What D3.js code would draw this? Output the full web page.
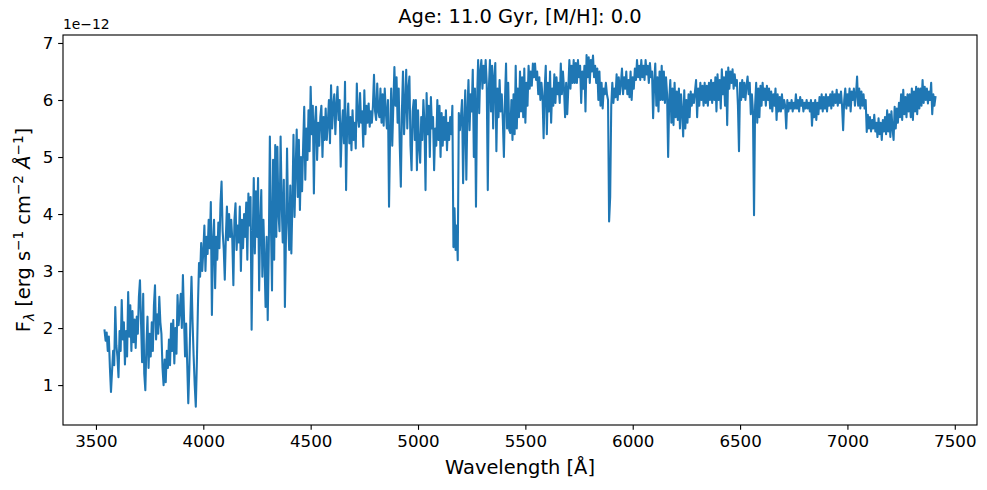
<!DOCTYPE html>
<html>
<head>
<meta charset="utf-8">
<script src="https://cdn.jsdelivr.net/npm/d3@7"></script>
<style>
  html, body { margin: 0; padding: 0; background: #ffffff; }
  svg { display: block; font-family: "DejaVu Sans", sans-serif; }
  text { white-space: pre; }
</style>
</head>
<body>
<svg id="chart" width="987" height="490"></svg>
<script>
// ---- Data ----
const chartTitle = "Age: 11.0 Gyr, [M/H]: 0.0";
const xLabel = "Wavelength [Å]";
const offsetLabel = "1e\u221212";
const xTicks = [3500, 4000, 4500, 5000, 5500, 6000, 6500, 7000, 7500];
const yTicks = [1, 2, 3, 4, 5, 6, 7];
const xDomain = [3346.5, 7603.5];
const yDomain = [0.30, 7.14];
// flux sampled every 5 Å starting at 3540 Å (units of 1e-12 erg s^-1 cm^-2 Å^-1)
const wavelengthStart = 3540;
const wavelengthStep = 5;
const flux = [
/*3540*/ 1.96,1.78,1.92,1.60,1.85,1.30,0.88,1.25,1.60,1.35,
/*3590*/ 2.37,1.70,1.50,1.14,1.95,1.60,2.49,1.80,2.10,1.36,
/*3640*/ 1.95,1.50,2.63,1.85,2.40,1.60,2.30,1.75,2.15,1.65,
/*3690*/ 2.20,1.90,2.55,2.84,2.10,1.40,2.60,1.20,0.91,1.70,
/*3740*/ 2.20,1.30,1.90,1.50,2.10,1.60,2.40,2.75,1.80,2.24,
/*3790*/ 1.90,2.55,2.10,1.90,1.30,1.00,1.45,1.05,1.60,1.30,
/*3840*/ 1.80,1.35,2.08,1.60,2.14,1.38,2.00,1.55,2.58,2.05,
/*3890*/ 2.30,2.60,2.00,2.93,2.20,1.50,2.08,1.38,0.68,1.30,
/*3940*/ 2.20,2.90,2.10,1.50,1.00,0.62,1.40,2.40,3.14,2.90,
/*3990*/ 3.49,3.00,3.35,3.80,3.00,3.60,3.30,3.90,3.40,4.21,
/*4040*/ 2.23,3.50,3.90,2.70,3.60,3.20,3.85,3.40,4.19,4.57,
/*4090*/ 3.70,3.40,2.85,3.60,4.13,3.54,4.00,3.60,3.90,3.55,
/*4140*/ 2.75,3.90,4.19,3.37,3.80,3.50,4.13,3.00,3.90,3.40,
/*4190*/ 4.00,3.60,4.20,3.20,4.36,3.80,4.30,1.97,3.50,4.63,
/*4240*/ 3.31,4.40,3.60,4.63,2.66,3.80,4.42,2.90,3.90,3.20,
/*4290*/ 2.37,3.60,2.14,3.40,5.36,3.80,2.66,4.95,3.20,5.21,
/*4340*/ 3.60,5.18,4.00,3.70,5.36,4.20,3.50,4.60,2.37,3.60,
/*4390*/ 5.15,3.90,3.37,4.50,3.31,4.20,5.39,3.95,4.80,5.48,
/*4440*/ 4.30,5.30,4.07,5.00,4.40,5.20,5.88,4.60,5.50,4.95,
/*4490*/ 5.82,5.10,6.23,5.40,5.90,4.36,5.60,5.88,4.95,5.60,
/*4540*/ 5.20,5.70,5.90,5.00,5.70,5.30,5.85,5.30,5.60,6.00,
/*4590*/ 5.24,6.26,5.50,5.90,6.10,5.40,5.90,6.23,5.65,6.00,
/*4640*/ 4.83,5.50,5.82,5.24,6.32,4.42,5.60,5.94,5.24,5.70,
/*4690*/ 5.12,5.82,5.30,5.60,5.15,6.29,5.70,5.53,6.12,5.60,
/*4740*/ 5.80,5.18,6.17,5.40,5.90,5.60,5.94,5.53,5.80,5.60,
/*4790*/ 5.90,6.44,5.80,5.65,6.29,5.80,5.70,6.20,5.60,6.10,
/*4840*/ 5.55,6.20,5.80,5.50,6.00,4.13,5.40,6.20,5.20,5.90,
/*4890*/ 6.58,5.90,6.40,5.60,6.20,5.20,4.48,5.80,6.50,5.40,
/*4940*/ 5.90,6.53,5.50,6.20,6.41,5.20,4.77,5.80,6.00,5.30,
/*4990*/ 6.00,4.77,5.82,5.20,4.90,5.70,5.30,6.00,5.60,4.42,
/*5040*/ 6.12,5.40,5.90,5.00,6.05,5.50,5.70,4.77,5.50,5.20,
/*5090*/ 6.00,5.30,5.90,5.00,5.77,5.20,5.70,5.30,5.82,5.12,
/*5140*/ 5.60,5.30,5.70,5.40,5.90,3.42,4.10,3.37,3.80,3.19,
/*5190*/ 5.77,5.47,5.70,6.00,4.54,5.60,6.17,4.60,5.80,6.35,
/*5240*/ 5.47,6.10,5.80,6.53,5.00,6.20,4.13,6.00,6.70,5.77,
/*5290*/ 6.50,6.70,6.20,6.60,6.30,6.70,6.30,4.42,6.20,6.70,
/*5340*/ 5.80,6.60,5.50,6.40,6.65,5.10,6.20,5.70,6.35,5.80,
/*5390*/ 6.10,5.65,5.00,6.00,6.64,5.50,6.30,5.47,5.42,6.00,
/*5440*/ 5.30,6.10,5.40,6.60,5.50,6.20,5.70,6.50,5.80,6.40,
/*5490*/ 5.70,6.55,5.60,6.30,5.90,6.60,6.20,6.50,6.25,6.64,
/*5540*/ 6.40,6.64,6.35,6.50,6.10,6.40,6.00,6.30,6.05,5.33,
/*5590*/ 6.20,6.60,5.40,6.30,5.80,6.50,5.60,6.20,5.90,6.45,
/*5640*/ 5.95,6.40,6.10,6.30,5.95,6.64,6.10,6.50,6.20,5.70,
/*5690*/ 6.30,5.75,6.20,6.70,6.20,6.60,6.30,6.70,6.30,6.65,
/*5740*/ 6.30,6.70,6.40,6.60,5.95,6.50,6.20,6.60,5.80,6.79,
/*5790*/ 6.40,6.75,6.30,6.70,6.50,6.78,6.40,6.60,6.30,6.55,
/*5840*/ 6.00,6.50,5.90,6.30,5.85,6.20,6.10,6.30,6.10,6.00,
/*5890*/ 3.87,4.30,5.90,6.30,5.95,6.20,6.05,6.45,6.00,6.40,
/*5940*/ 6.10,6.30,6.55,6.10,6.40,6.20,6.50,6.10,6.35,6.05,
/*5990*/ 6.50,6.00,6.40,6.20,6.55,6.35,6.70,6.40,6.60,6.35,
/*6040*/ 6.70,6.40,6.60,6.35,6.70,6.45,6.60,6.30,6.65,6.40,
/*6090*/ 6.50,5.68,6.30,6.64,5.90,6.40,5.80,6.50,6.00,6.60,
/*6140*/ 6.00,6.50,5.95,6.40,6.10,5.00,6.00,6.35,5.60,6.20,
/*6190*/ 5.56,6.30,5.70,6.15,5.65,6.20,5.50,6.10,5.80,5.36,
/*6240*/ 6.17,5.50,6.00,5.60,6.10,5.70,6.15,5.90,6.10,5.95,
/*6290*/ 6.15,6.35,5.70,6.20,5.90,6.30,6.00,6.25,5.90,6.30,
/*6340*/ 5.95,6.25,5.90,6.30,6.00,6.35,5.95,6.30,6.00,6.40,
/*6390*/ 5.80,6.45,6.00,6.35,5.85,6.54,6.10,6.40,5.90,6.50,
/*6440*/ 5.56,6.57,6.20,6.50,6.30,6.54,6.20,6.45,6.25,6.35,
/*6490*/ 5.91,5.10,6.30,6.00,6.35,6.05,6.30,6.00,6.25,6.41,
/*6540*/ 6.10,6.30,5.75,6.10,5.80,3.98,5.90,6.30,5.60,6.20,
/*6590*/ 5.70,6.25,5.90,6.30,6.00,6.20,5.90,6.25,6.00,6.20,
/*6640*/ 5.85,6.15,5.80,6.10,5.90,6.20,5.65,6.10,5.80,6.05,
/*6690*/ 5.80,6.10,5.85,6.00,5.90,5.50,6.00,5.80,5.95,5.85,
/*6740*/ 6.00,5.80,5.95,5.85,6.10,5.85,6.00,5.80,6.05,5.90,
/*6790*/ 6.00,5.80,5.95,5.85,6.00,5.85,5.95,5.80,6.00,5.55,
/*6840*/ 5.95,5.70,6.00,5.65,5.95,5.75,6.05,5.85,6.10,5.80,
/*6890*/ 6.05,5.85,6.10,5.80,6.05,5.90,6.10,5.85,6.15,5.90,
/*6940*/ 6.10,5.95,6.18,5.90,6.10,5.95,6.15,5.90,5.47,6.00,
/*6990*/ 6.20,5.85,6.10,5.90,6.20,5.80,6.15,6.00,6.20,5.90,
/*7040*/ 6.10,6.41,5.90,6.20,5.85,6.15,5.90,6.10,5.85,6.00,
/*7090*/ 5.44,5.74,5.50,5.70,5.45,5.65,5.50,5.74,5.45,5.60,
/*7140*/ 5.35,5.68,5.40,5.60,5.30,5.65,5.45,5.70,5.40,5.82,
/*7190*/ 5.45,5.75,5.35,5.80,5.50,5.30,5.88,5.50,5.85,5.60,
/*7240*/ 5.95,5.70,6.10,5.65,6.18,5.75,6.05,5.70,6.10,5.80,
/*7290*/ 6.10,5.70,6.20,5.65,6.15,5.80,6.23,5.75,6.20,5.85,
/*7340*/ 6.20,5.90,6.35,5.95,6.23,6.00,6.20,5.94,6.15,6.00,
/*7390*/ 6.30,5.75,6.10,5.90,6.05
];

// ---- Layout ----
const W = 987, H = 490;
const plot = { left: 63, right: 977, top: 35, bottom: 425 };
const blue = "#1f77b4";
const pt = 100 / 72;

const svg = d3.select("#chart");
svg.append("rect").attr("width", W).attr("height", H).attr("fill", "#ffffff");

const x = d3.scaleLinear().domain(xDomain).range([plot.left, plot.right]);
const y = d3.scaleLinear().domain(yDomain).range([plot.bottom, plot.top]);

const points = flux.map((v, i) => ({ w: wavelengthStart + i * wavelengthStep, f: v }));

svg.append("defs").append("clipPath").attr("id", "clip")
  .append("rect")
  .attr("x", plot.left).attr("y", plot.top)
  .attr("width", plot.right - plot.left).attr("height", plot.bottom - plot.top);

const line = d3.line().x(d => x(d.w)).y(d => y(d.f));
svg.append("path")
  .datum(points)
  .attr("clip-path", "url(#clip)")
  .attr("fill", "none")
  .attr("stroke", blue)
  .attr("stroke-width", 1.5 * pt)
  .attr("stroke-linejoin", "round")
  .attr("stroke-linecap", "square")
  .attr("d", line);

// ---- Axes ----
const tickLen = 3.5 * pt;
const xAxis = d3.axisBottom(x).tickValues(xTicks).tickFormat(d3.format("d"))
  .tickSize(tickLen).tickPadding(3.5 * pt).tickSizeOuter(0);
const yAxis = d3.axisLeft(y).tickValues(yTicks).tickFormat(d3.format("d"))
  .tickSize(tickLen).tickPadding(3.5 * pt).tickSizeOuter(0);

const gx = svg.append("g").attr("transform", `translate(0,${plot.bottom})`).call(xAxis);
const gy = svg.append("g").attr("transform", `translate(${plot.left},0)`).call(yAxis);
[gx, gy].forEach(g => {
  g.select(".domain").remove();
  g.selectAll(".tick line").attr("stroke", "#000").attr("stroke-width", 0.8 * pt);
  g.selectAll(".tick text").attr("fill", "#000")
    .attr("font-family", "DejaVu Sans").attr("font-size", 12 * pt);
});

// frame
svg.append("rect")
  .attr("x", plot.left).attr("y", plot.top)
  .attr("width", plot.right - plot.left).attr("height", plot.bottom - plot.top)
  .attr("fill", "none").attr("stroke", "#000").attr("stroke-width", 0.8 * pt);

// offset text
svg.append("text").attr("x", plot.left).attr("y", 29)
  .attr("font-size", 10 * pt).attr("fill", "#000").text(offsetLabel);

// title
svg.append("text").attr("x", (plot.left + plot.right) / 2).attr("y", 23)
  .attr("text-anchor", "middle").attr("font-size", 14 * pt).attr("fill", "#000")
  .text(chartTitle);

// x label
svg.append("text").attr("x", (plot.left + plot.right) / 2).attr("y", 474)
  .attr("text-anchor", "middle").attr("font-size", 14 * pt).attr("fill", "#000")
  .text(xLabel);

// y label with sub/superscripts
const fs = 14 * pt, small = fs * 0.7;
const yl = svg.append("text")
  .attr("transform", `translate(30,${(plot.top + plot.bottom) / 2}) rotate(-90)`)
  .attr("text-anchor", "middle").attr("font-size", fs).attr("fill", "#000");
yl.append("tspan").text("F");
yl.append("tspan").attr("font-size", small).attr("font-style", "italic").attr("dy", fs * 0.22).text("λ");
yl.append("tspan").attr("dy", -fs * 0.22).text(" [erg s");
yl.append("tspan").attr("font-size", small).attr("dy", -fs * 0.38).text("\u22121");
yl.append("tspan").attr("dy", fs * 0.38).text(" cm");
yl.append("tspan").attr("font-size", small).attr("dy", -fs * 0.38).text("\u22122");
yl.append("tspan").attr("dy", fs * 0.38).text(" ");
yl.append("tspan").attr("font-style", "italic").text("Å");
yl.append("tspan").attr("font-size", small).attr("dy", -fs * 0.38).text("\u22121");
yl.append("tspan").attr("dy", fs * 0.38).text("]");
</script>
</body>
</html>
